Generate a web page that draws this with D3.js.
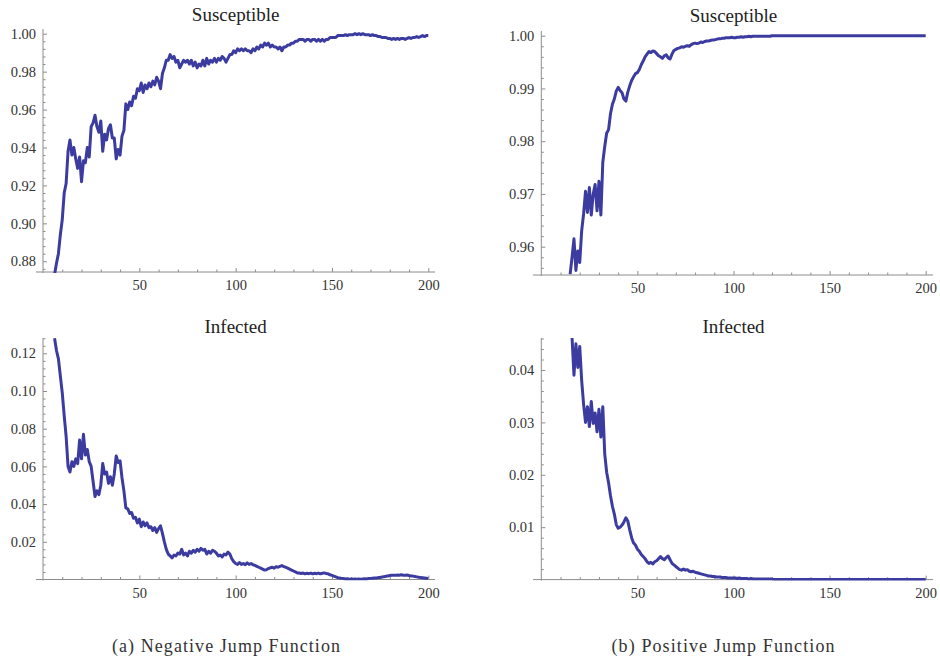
<!DOCTYPE html>
<html>
<head>
<meta charset="utf-8">
<script src="https://cdn.jsdelivr.net/npm/d3@7"></script>
<style>
body { margin: 0; background: #fff; }
svg, svg text { font-family: "Liberation Serif", "DejaVu Serif", "Times New Roman", serif; }
svg { display: block; }
.tick text { font-size: 14.5px; fill: #333; }
.tick line { stroke: #8c8c8c; }
</style>
</head>
<body>
<svg width="940" height="662"></svg>
<script>
// Data (one value per time step)
const xTicks = [50, 100, 150, 200];
const susNegTicks = [0.88, 0.90, 0.92, 0.94, 0.96, 0.98, 1.00];
const susPosTicks = [0.96, 0.97, 0.98, 0.99, 1.00];
const infNegTicks = [0.02, 0.04, 0.06, 0.08, 0.10, 0.12];
const infPosTicks = [0.01, 0.02, 0.03, 0.04];

// susceptible, negative jump: t = 6..200
const susNeg = [
	0.873,0.879,0.884,0.894,0.902,0.916,0.921,0.938,0.944,0.936,
	0.940,0.934,0.929,0.935,0.922,0.933,0.932,0.940,0.935,0.951,
	0.953,0.957,0.951,0.948,0.954,0.938,0.947,0.944,0.950,0.952,
	0.945,0.945,0.934,0.939,0.936,0.946,0.949,0.963,0.960,0.964,
	0.962,0.967,0.966,0.971,0.970,0.974,0.969,0.973,0.971,0.974,
	0.972,0.975,0.973,0.977,0.975,0.971,0.979,0.982,0.986,0.986,
	0.989,0.987,0.988,0.985,0.986,0.982,0.984,0.986,0.985,0.986,
	0.984,0.986,0.983,0.985,0.982,0.984,0.983,0.986,0.983,0.987,
	0.984,0.986,0.985,0.987,0.985,0.987,0.986,0.988,0.987,0.985,
	0.987,0.989,0.989,0.991,0.990,0.992,0.991,0.992,0.991,0.992,
	0.991,0.991,0.990,0.992,0.991,0.993,0.992,0.994,0.993,0.995,
	0.994,0.995,0.993,0.994,0.993,0.993,0.992,0.993,0.991,0.993,
	0.993,0.994,0.994,0.995,0.995,0.996,0.996,0.997,0.997,0.997,
	0.996,0.997,0.997,0.996,0.997,0.997,0.996,0.997,0.996,0.997,
	0.996,0.997,0.997,0.998,0.998,0.998,0.998,0.999,0.999,0.999,
	0.999,0.9995,0.999,0.9995,0.9995,0.9995,1.000,0.9995,1.000,0.9995,
	1.000,0.9995,0.9995,0.9995,0.999,0.9995,0.999,0.999,0.9985,0.9985,
	0.998,0.998,0.998,0.9975,0.9975,0.997,0.9975,0.997,0.9975,0.997,
	0.9975,0.9975,0.997,0.9975,0.998,0.9975,0.998,0.998,0.9985,0.998,
	0.9985,0.999,0.9985,0.999,0.999
];

// susceptible, positive jump: t = 15..200
const susPos = [
	0.9548,0.9580,0.9615,0.9555,0.9592,0.9570,0.9630,0.9662,0.9705,0.9665,
	0.9712,0.9660,0.9700,0.9718,0.9668,0.9724,0.9660,0.9760,0.9790,0.9815,
	0.9822,0.9852,0.9870,0.9880,0.9895,0.9902,0.9896,0.9892,0.9880,0.9876,
	0.9893,0.9905,0.9915,0.9922,0.9928,0.9930,0.9936,0.9945,0.9952,0.9960,
	0.9965,0.9970,0.9968,0.9971,0.9970,0.9966,0.9962,0.9960,0.9957,0.9962,
	0.9964,0.9958,0.9956,0.9965,0.9972,0.9974,0.9976,0.9977,0.9979,0.9978,
	0.9980,0.9981,0.9980,0.9983,0.9985,0.9986,0.9985,0.9986,0.9988,0.9987,
	0.9989,0.9990,0.9990,0.9991,0.9992,0.9992,0.9993,0.9994,0.9994,0.9995,
	0.9995,0.9996,0.9996,0.9996,0.9997,0.9996,0.9996,0.9997,0.9997,0.9998,
	0.9997,0.9998,0.9998,0.9999,0.9998,0.9999,0.9999,0.9999,0.9999,0.9999,
	0.9999,0.9999,0.9999,0.9999,0.9999,1,1,1,1,1,
	1,1,1,1,1,1,1,1,1,1,
	1,1,1,1,1,1,1,1,1,1,
	1,1,1,1,1,1,1,1,1,1,
	1,1,1,1,1,1,1,1,1,1,
	1,1,1,1,1,1,1,1,1,1,
	1,1,1,1,1,1,1,1,1,1,
	1,1,1,1,1,1,1,1,1,1,
	1,1,1,1,1,1
];

// infected, negative jump: t = 6..200
const infNeg = [
	0.1280,0.1215,0.1170,0.1080,0.0990,0.0870,0.0760,0.0600,0.0570,0.0625,
	0.0600,0.0640,0.0615,0.0740,0.0640,0.0770,0.0660,0.0690,0.0625,0.0600,
	0.0520,0.0440,0.0470,0.0450,0.0500,0.0615,0.0560,0.0570,0.0510,0.0545,
	0.0500,0.0560,0.0655,0.0620,0.0630,0.0540,0.0470,0.0380,0.0375,0.0350,
	0.0355,0.0325,0.0330,0.0300,0.0320,0.0280,0.0305,0.0285,0.0300,0.0275,
	0.0280,0.0260,0.0275,0.0250,0.0270,0.0285,0.0245,0.0200,0.0160,0.0135,
	0.0125,0.0115,0.0130,0.0125,0.0140,0.0135,0.0160,0.0130,0.0140,0.0125,
	0.0150,0.0140,0.0155,0.0145,0.0160,0.0150,0.0165,0.0155,0.0160,0.0135,
	0.0150,0.0140,0.0155,0.0150,0.0140,0.0125,0.0130,0.0120,0.0135,0.0130,
	0.0145,0.0135,0.0110,0.0095,0.0085,0.0080,0.0090,0.0080,0.0085,0.0078,
	0.0088,0.0080,0.0085,0.0078,0.0075,0.0070,0.0065,0.0060,0.0055,0.0050,
	0.0052,0.0058,0.0062,0.0065,0.0060,0.0068,0.0065,0.0070,0.0074,0.0068,
	0.0065,0.0060,0.0055,0.0050,0.0045,0.0040,0.0035,0.0034,0.0032,0.0034,
	0.0030,0.0033,0.0031,0.0034,0.0030,0.0033,0.0031,0.0034,0.0030,0.0033,
	0.0035,0.0032,0.0030,0.0025,0.0022,0.0018,0.0014,0.0010,0.0008,0.0006,
	0.0005,0.0003,0.0004,0.0002,0.0003,0.0002,0.0003,0.0002,0.0003,0.0002,
	0.0003,0.0004,0.0003,0.0005,0.0006,0.0007,0.0008,0.0008,0.0010,0.0011,
	0.0013,0.0015,0.0017,0.0019,0.0021,0.0022,0.0023,0.0022,0.0024,0.0023,
	0.0025,0.0023,0.0022,0.0024,0.0021,0.0019,0.0018,0.0016,0.0014,0.0012,
	0.0010,0.0009,0.0008,0.0007,0.0006
];

// infected, positive jump: t = 16..200
const infPos = [
	0.0462,0.0390,0.0450,0.0405,0.0445,0.0380,0.0335,0.0300,0.0330,0.0292,
	0.0340,0.0298,0.0318,0.0282,0.0325,0.0272,0.0330,0.0240,0.0205,0.0185,
	0.0160,0.0140,0.0125,0.0105,0.0098,0.0100,0.0104,0.0110,0.0118,0.0112,
	0.0095,0.0080,0.0070,0.0066,0.0058,0.0054,0.0048,0.0044,0.0040,0.0034,
	0.0031,0.0033,0.0030,0.0034,0.0036,0.0040,0.0044,0.0040,0.0038,0.0042,
	0.0045,0.0038,0.0031,0.0028,0.0025,0.0022,0.0019,0.0018,0.0020,0.0018,
	0.0019,0.0016,0.0015,0.0016,0.0014,0.0013,0.0012,0.0011,0.0010,0.0009,
	0.0008,0.0007,0.0007,0.0006,0.0006,0.0005,0.0005,0.0005,0.0004,0.0004,
	0.0004,0.0003,0.0003,0.0003,0.0003,0.0003,0.0002,0.0003,0.0002,0.0002,
	0.0002,0.0002,0.0001,0.0002,0.0001,0.0001,0.0001,0.0001,0.0001,0.0001,
	0.0001,0.0001,0.0001,0.0001,0.0001,0,0,0,0,0,
	0,0,0,0,0,0,0,0,0,0,
	0,0,0,0,0,0,0,0,0,0,
	0,0,0,0,0,0,0,0,0,0,
	0,0,0,0,0,0,0,0,0,0,
	0,0,0,0,0,0,0,0,0,0,
	0,0,0,0,0,0,0,0,0,0,
	0,0,0,0,0,0,0,0,0,0,
	0,0,0,0,0
];

// Layout
const lineColor = '#3c3ca0';
const axisColor = '#8c8c8c';
const serif = '"Liberation Serif", "DejaVu Serif", "Times New Roman", serif';

const panels = [
	{ title: 'Susceptible', values: susNeg, start: 6, ticks: susNegTicks, minorStep: 0.004,
	  xRange: [43, 428.3], xExt: [36, 435], yDomain: [0.88, 1.00], yRange: [261.3, 33.7],
	  axisY: 272, topY: 29, titleY: 21 },
	{ title: 'Susceptible', values: susPos, start: 15, ticks: susPosTicks, minorStep: 0.002,
	  xRange: [541.3, 925.7], xExt: [533, 933], yDomain: [0.96, 1.00], yRange: [246.7, 35.7],
	  axisY: 275, topY: 31, titleY: 22 },
	{ title: 'Infected', values: infNeg, start: 6, ticks: infNegTicks, minorStep: 0.004,
	  xRange: [43, 428.3], xExt: [36, 435], yDomain: [0, 0.12], yRange: [579.5, 353.3],
	  axisY: 579.5, topY: 338, titleY: 333 },
	{ title: 'Infected', values: infPos, start: 16, ticks: infPosTicks, minorStep: 0.002,
	  xRange: [541.3, 925.7], xExt: [533, 933], yDomain: [0, 0.04], yRange: [579.6, 370],
	  axisY: 579.6, topY: 338, titleY: 333 }
];

const svg = d3.select('svg').attr('font-family', serif);

panels.forEach((p, k) => {
	const x = d3.scaleLinear().domain([0, 200]).range(p.xRange);
	const y = d3.scaleLinear().domain(p.yDomain).range(p.yRange);
	const g = svg.append('g');
	const x0 = p.xRange[0];

	// minor ticks
	const xMinor = d3.range(1, 21).map(i => i * 10).filter(v => v % 50 !== 0);
	const yLo = y.invert(p.axisY), yHi = y.invert(p.topY);
	const yMinor = d3.range(Math.ceil(yLo / p.minorStep - 1e-6), Math.floor(yHi / p.minorStep + 1e-6) + 1)
		.map(i => +(i * p.minorStep).toFixed(4))
		.filter(v => v > 0 && !p.ticks.some(t => Math.abs(t - v) < 1e-6));

	g.append('g')
	 .attr('transform', `translate(0, ${p.axisY})`)
	 .call(d3.axisBottom(x).tickValues(xMinor).tickSize(-2.5).tickFormat(''))
	 .call(a => a.select('.domain').remove());

	g.append('g')
	 .attr('transform', `translate(${x0}, 0)`)
	 .call(d3.axisLeft(y).tickValues(yMinor).tickSize(-2.5).tickFormat(''))
	 .call(a => a.select('.domain').remove());

	// major ticks
	g.append('g')
	 .attr('transform', `translate(0, ${p.axisY})`)
	 .call(d3.axisBottom(x).tickValues(xTicks).tickSize(-4).tickPadding(8).tickFormat(d3.format('d')))
	 .call(a => a.select('.domain').remove());

	g.append('g')
	 .attr('transform', `translate(${x0}, 0)`)
	 .call(d3.axisLeft(y).tickValues(p.ticks).tickSize(-4).tickPadding(7).tickFormat(d3.format('.2f')))
	 .call(a => a.select('.domain').remove());

	// d3 puts sans-serif on the axis groups, undo that
	g.selectAll('g').attr('font-family', serif).attr('font-size', null);

	// axis lines
	g.append('line')
	 .attr('x1', p.xExt[0]).attr('x2', p.xExt[1])
	 .attr('y1', p.axisY).attr('y2', p.axisY)
	 .attr('stroke', axisColor);
	g.append('line')
	 .attr('x1', x0).attr('x2', x0)
	 .attr('y1', p.topY).attr('y2', p.axisY + 1)
	 .attr('stroke', axisColor);

	// series
	svg.append('clipPath').attr('id', 'clip' + k)
	 .append('rect')
	 .attr('x', x0).attr('y', p.topY)
	 .attr('width', p.xRange[1] - x0 + 4)
	 .attr('height', p.axisY - p.topY + 1);

	const line = d3.line()
		.x((d, i) => x(p.start + i))
		.y(d => y(d));

	g.append('path')
	 .datum(p.values)
	 .attr('clip-path', `url(#clip${k})`)
	 .attr('fill', 'none')
	 .attr('stroke', lineColor)
	 .attr('stroke-width', 3)
	 .attr('stroke-linejoin', 'round')
	 .attr('d', line);

	// title
	g.append('text')
	 .attr('x', (p.xRange[0] + p.xRange[1]) / 2)
	 .attr('y', p.titleY)
	 .attr('text-anchor', 'middle')
	 .attr('font-size', 19)
	 .attr('fill', '#222')
	 .text(p.title);
});

// captions
const captions = [
	{ text: '(a) Negative Jump Function', x: 226, w: 228 },
	{ text: '(b) Positive Jump Function', x: 723, w: 223 }
];

svg.selectAll('.caption')
	 .data(captions)
	 .enter().append('text')
	 .attr('class', 'caption')
	 .attr('x', d => d.x - d.w / 2)
	 .attr('y', 652)
	 .attr('font-size', 18)
	 .attr('fill', '#333')
	 .attr('textLength', d => d.w)
	 .attr('lengthAdjust', 'spacing')
	 .text(d => d.text);
</script>
</body>
</html>
